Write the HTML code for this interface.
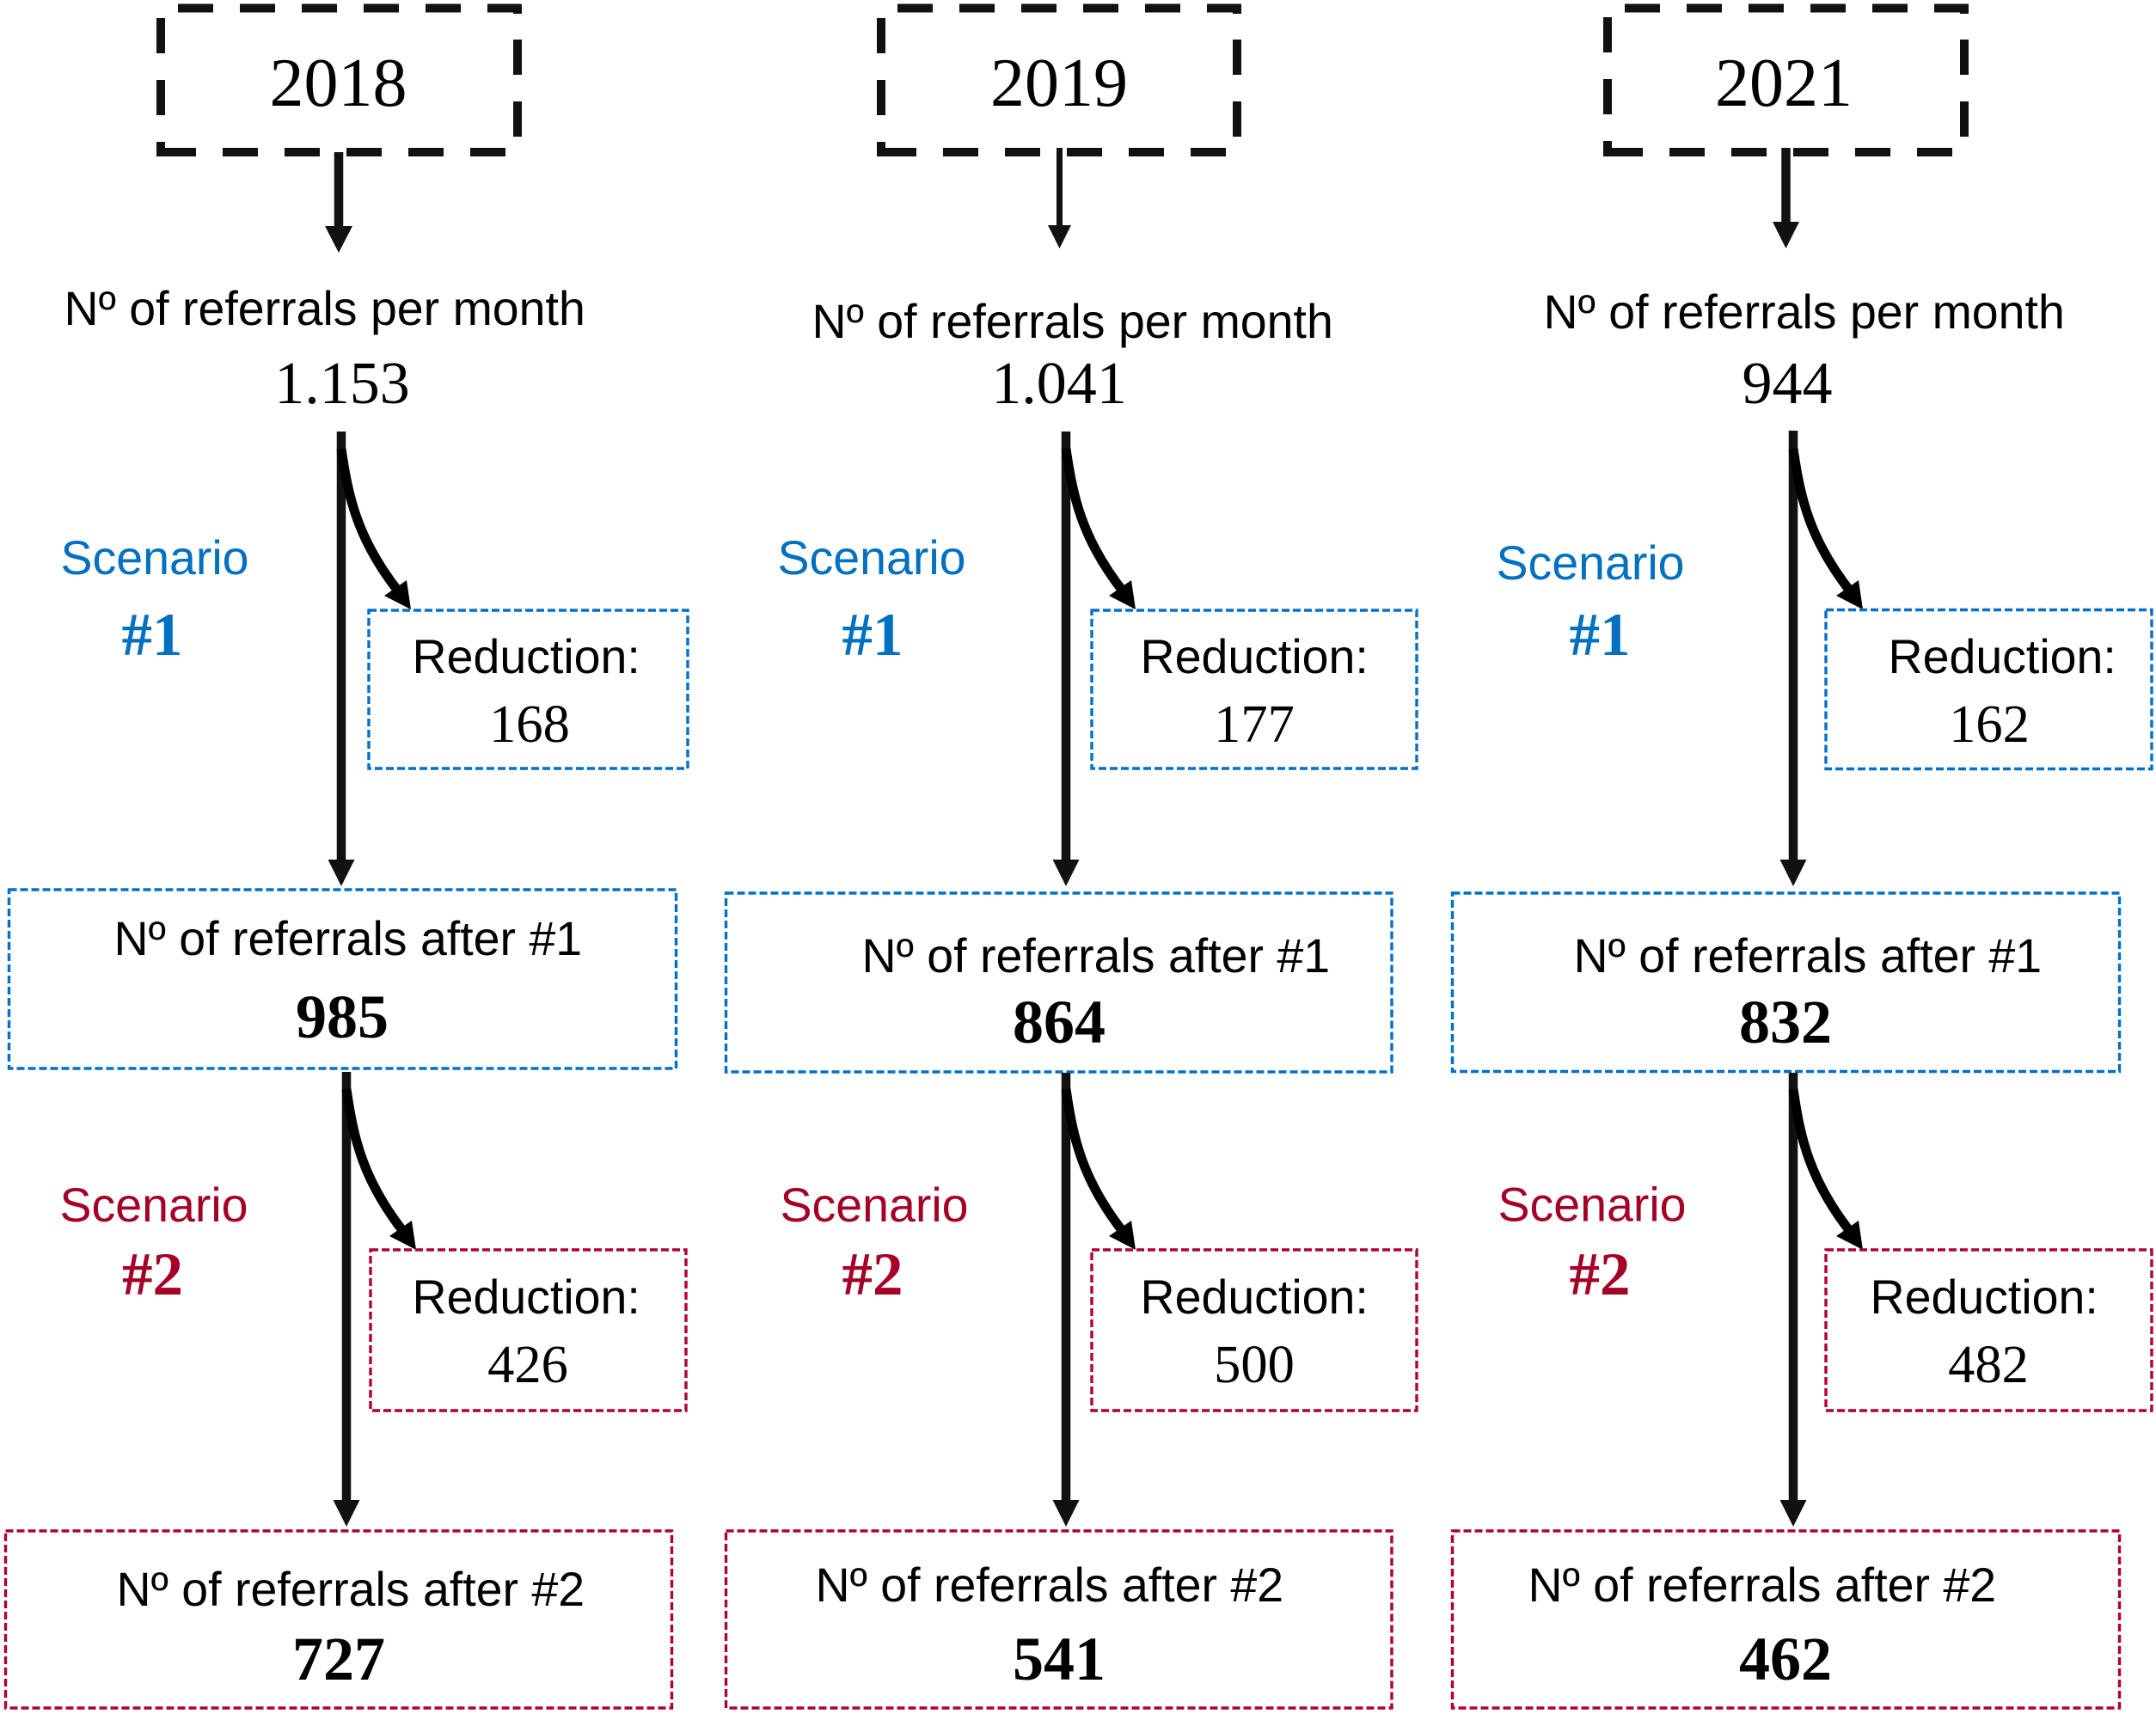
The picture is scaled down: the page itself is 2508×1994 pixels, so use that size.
<!DOCTYPE html>
<html lang="en">
<head>
<meta charset="utf-8">
<title>Referrals flowchart</title>
<style>
html,body{margin:0;padding:0;background:#fff;width:2508px;height:1994px;overflow:hidden}
svg{display:block}
.s{font-family:"Liberation Sans",Arial,sans-serif;font-size:55.5px;fill:#000;transform:translateX(-1.5px)}
.t{font-family:"Liberation Serif","Times New Roman",serif;fill:#000;text-anchor:middle}
.yr{font-size:80px}
.big{font-size:70px}
.val{font-size:62.5px}
.bold{font-size:72px;font-weight:bold}
.num{font-size:71px;font-weight:bold}
.blue{fill:#0070c0}
.red{fill:#a50026}
.bb{fill:none;stroke:#0070c8;stroke-width:3.4;stroke-dasharray:9 4}
.rb{fill:none;stroke:#b0002e;stroke-width:3.4;stroke-dasharray:9 4}
.yb{fill:none;stroke:#111;stroke-width:10}
.top{stroke-dasharray:41 31}
.bot{stroke-dasharray:46 31 41 31 41 31 41 31 41 31 41 31}
.ar{fill:#111}
.sh{stroke:#111;stroke-width:10.5;fill:none}
.cv{stroke:#000;stroke-width:11;fill:none}
</style>
</head>
<body>
<svg xmlns="http://www.w3.org/2000/svg" width="2508" height="1994" viewBox="0 0 2508 1994">
<defs>
<g id="curve-arrow">
<path class="cv" d="M0 0 C8 55 18 105 68 168"/>
<polygon points="81,187 50,171 76,153" fill="#000"/>
</g>
</defs>
<rect width="2508" height="1994" fill="#fff"/>

<!-- ===== 2018 ===== -->
<g>
<g>
<path class="yb top" d="M207 9.5H606"/>
<path class="yb bot" d="M182 177H606"/>
<path class="yb top" d="M187 21V182"/>
<path class="yb top" d="M602 46V182"/>
<path class="yb" d="M602 5V16"/>
</g>
<text class="t yr" x="393.5" y="123">2018</text>
<path class="sh" d="M394 177V266"/>
<polygon class="ar" points="378,263 410,263 394,294"/>
<text class="s" x="76" y="378">Nº of referrals per month</text>
<text class="t big" x="398" y="469">1.153</text>
<path class="sh" d="M397 502V1003"/>
<polygon class="ar" points="381.5,1000 412.5,1000 397,1031"/>
<use href="#curve-arrow" x="397" y="522"/>
<text class="s blue" x="72" y="668">Scenario</text>
<text class="t num blue" x="177" y="762">#1</text>
<rect class="bb" x="429" y="710" width="371" height="184"/>
<text class="s" x="481" y="783">Reduction:</text>
<text class="t val" x="616" y="863">168</text>
<rect class="bb" x="10.5" y="1035" width="776" height="208"/>
<text class="s" x="134" y="1111">Nº of referrals after #1</text>
<text class="t bold" x="398" y="1207">985</text>
<path class="sh" d="M403 1247V1748"/>
<polygon class="ar" points="387.5,1745 418.5,1745 403,1776"/>
<use href="#curve-arrow" x="403" y="1267"/>
<text class="s red" x="71" y="1421">Scenario</text>
<text class="t num red" x="177.5" y="1506">#2</text>
<rect class="rb" x="431" y="1454" width="367" height="187"/>
<text class="s" x="481" y="1528">Reduction:</text>
<text class="t val" x="614" y="1608">426</text>
<rect class="rb" x="6.5" y="1781" width="775" height="206"/>
<text class="s" x="137" y="1868">Nº of referrals after #2</text>
<text class="t bold" x="394" y="1954">727</text>
</g>

<!-- ===== 2019 ===== -->
<g>
<g>
<path class="yb top" d="M1044 9.5H1444"/>
<path class="yb bot" d="M1020 177H1444"/>
<path class="yb top" d="M1025 21V182"/>
<path class="yb top" d="M1439 46V182"/>
<path class="yb" d="M1439 5V16"/>
</g>
<text class="t yr" x="1232" y="123">2019</text>
<path class="sh" style="stroke-width:7" d="M1232.5 172V265"/>
<polygon class="ar" points="1219,262 1246,262 1232.5,289"/>
<text class="s" x="946" y="393">Nº of referrals per month</text>
<text class="t big" x="1232" y="469">1.041</text>
<path class="sh" d="M1240 502V1003"/>
<polygon class="ar" points="1224.5,1000 1255.5,1000 1240,1031"/>
<use href="#curve-arrow" x="1240" y="522"/>
<text class="s blue" x="906" y="668">Scenario</text>
<text class="t num blue" x="1015" y="762">#1</text>
<rect class="bb" x="1270" y="710" width="378" height="184"/>
<text class="s" x="1328" y="783">Reduction:</text>
<text class="t val" x="1459" y="863">177</text>
<rect class="bb" x="844.5" y="1039" width="774.5" height="208"/>
<text class="s" x="1004" y="1131">Nº of referrals after #1</text>
<text class="t bold" x="1232" y="1213">864</text>
<path class="sh" d="M1240 1248V1748"/>
<polygon class="ar" points="1224.5,1745 1255.5,1745 1240,1776"/>
<use href="#curve-arrow" x="1240" y="1267"/>
<text class="s red" x="909" y="1421">Scenario</text>
<text class="t num red" x="1015" y="1506">#2</text>
<rect class="rb" x="1270" y="1454" width="378" height="187"/>
<text class="s" x="1328" y="1528">Reduction:</text>
<text class="t val" x="1459" y="1608">500</text>
<rect class="rb" x="844.5" y="1781" width="774.5" height="206"/>
<text class="s" x="950" y="1863">Nº of referrals after #2</text>
<text class="t bold" x="1232" y="1954">541</text>
</g>

<!-- ===== 2021 ===== -->
<g>
<g>
<path class="yb top" d="M1890 9.5H2290"/>
<path class="yb bot" d="M1865 177H2290"/>
<path class="yb top" d="M1870 20V182"/>
<path class="yb top" d="M2285 46V182"/>
<path class="yb" d="M2285 5V16"/>
</g>
<text class="t yr" x="2075" y="123">2021</text>
<path class="sh" d="M2077.5 172V262"/>
<polygon class="ar" points="2062,258 2093,258 2077.5,289"/>
<text class="s" x="1797" y="382">Nº of referrals per month</text>
<text class="t big" x="2079" y="469">944</text>
<path class="sh" d="M2086 501V1003"/>
<polygon class="ar" points="2070.5,1000 2101.5,1000 2086,1031"/>
<use href="#curve-arrow" x="2086" y="522"/>
<text class="s blue" x="1742" y="674">Scenario</text>
<text class="t num blue" x="1861" y="762">#1</text>
<rect class="bb" x="2124" y="709.5" width="379" height="185"/>
<text class="s" x="2198" y="783">Reduction:</text>
<text class="t val" x="2314" y="863">162</text>
<rect class="bb" x="1689.5" y="1039" width="776" height="207.5"/>
<text class="s" x="1832" y="1131">Nº of referrals after #1</text>
<text class="t bold" x="2077" y="1213">832</text>
<path class="sh" d="M2086 1248V1748"/>
<polygon class="ar" points="2070.5,1745 2101.5,1745 2086,1776"/>
<use href="#curve-arrow" x="2086" y="1267"/>
<text class="s red" x="1744" y="1420.5">Scenario</text>
<text class="t num red" x="1861" y="1506">#2</text>
<rect class="rb" x="2124" y="1454" width="379" height="187"/>
<text class="s" x="2177" y="1528">Reduction:</text>
<text class="t val" x="2313" y="1608">482</text>
<rect class="rb" x="1689.5" y="1781" width="776" height="206"/>
<text class="s" x="1779" y="1863">Nº of referrals after #2</text>
<text class="t bold" x="2077" y="1954">462</text>
</g>
</svg>
</body>
</html>
